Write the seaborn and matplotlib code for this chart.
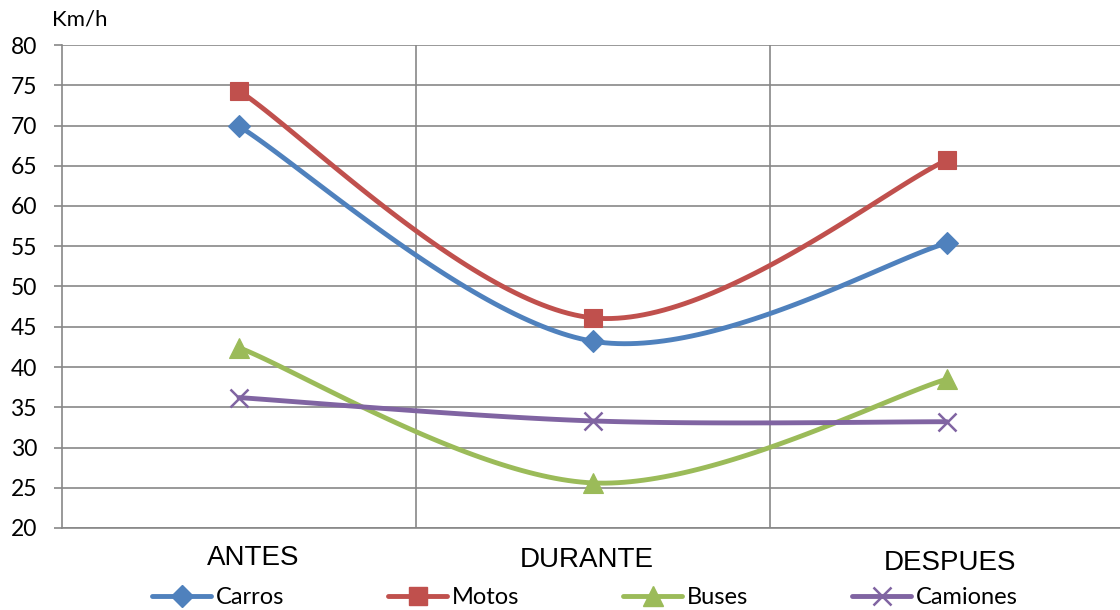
import numpy as np
import pandas as pd
import matplotlib
matplotlib.use("Agg")
import matplotlib.pyplot as plt
from matplotlib.lines import Line2D
from matplotlib.transforms import ScaledTranslation
import seaborn as sns

# Average speed by vehicle type, before / during / after
periods = ["ANTES", "DURANTE", "DESPUES"]
carros = [69.9, 43.2, 55.4]
motos = [74.3, 46.1, 65.7]
buses = [42.4, 25.6, 38.5]
camiones = [36.2, 33.3, 33.2]
series_names = ["Carros", "Motos", "Buses", "Camiones"]
y_ticks = list(range(20, 81, 5))

colors = ["#4F81BD", "#C0504D", "#9BBB59", "#8064A2"]
markers = ["D", "s", "^", "x"]
msizes = [11, 13.5, 14, 13]

df = pd.DataFrame({"periodo": periods, "Carros": carros, "Motos": motos,
                   "Buses": buses, "Camiones": camiones})
long = df.melt(id_vars="periodo", var_name="tipo", value_name="kmh")
long["pos"] = long["periodo"].map({p: i for i, p in enumerate(periods)})

sns.set_theme(style="white")
plt.rcParams["font.family"] = ["Lato", "DejaVu Sans"]
plt.rcParams["text.color"] = "black"
plt.rcParams["xtick.color"] = "black"
plt.rcParams["ytick.color"] = "black"

fig = plt.figure(figsize=(11.2, 6.1), dpi=100)
ax = fig.add_axes([62 / 1120, 1 - 528 / 610, 1062 / 1120, 483 / 610])


def smooth(xs, ys, n=60):
    """Cubic Bezier smoothing through the points (Catmull-Rom style)."""
    P = np.column_stack([xs, ys]).astype(float)
    ext = np.vstack([P[0], P, P[-1]])
    out = []
    t = np.linspace(0, 1, n)[:, None]
    for i in range(len(P) - 1):
        p0, p1 = ext[i + 1], ext[i + 2]
        c1 = p0 + (ext[i + 2] - ext[i]) / 6
        c2 = p1 - (ext[i + 3] - ext[i + 1]) / 6
        seg = ((1 - t) ** 3) * p0 + 3 * ((1 - t) ** 2) * t * c1 \
            + 3 * (1 - t) * t ** 2 * c2 + t ** 3 * p1
        out.append(seg)
    return np.vstack(out)


for name, col, mk, ms in zip(series_names, colors, markers, msizes):
    sub = long[long["tipo"] == name]
    curve = smooth(sub["pos"].values, sub["kmh"].values)
    ax.plot(curve[:, 0], curve[:, 1], color=col, lw=3.5, solid_capstyle="round",
            zorder=3)
    if mk == "x":
        ax.plot(sub["pos"], sub["kmh"], ls="none", marker=mk, ms=ms, mew=1.8,
                color=col, zorder=4)
    else:
        ax.plot(sub["pos"], sub["kmh"], ls="none", marker=mk, ms=ms, mew=0.8,
                mfc=col, mec=col, zorder=4)

ax.set_xlim(-0.5, 2.5)
ax.set_ylim(20, 80)
ax.set_yticks(y_ticks)
ax.set_xticks(range(len(periods)))
ax.set_xticklabels(periods, fontfamily="Liberation Sans", fontsize=20)
ax.set_xticks([0.5, 1.5], minor=True)

grid_c = "#878787"
ax.grid(axis="y", which="major", color=grid_c, lw=1.2)
ax.grid(axis="x", which="minor", color=grid_c, lw=1.2)
ax.grid(axis="x", which="major", visible=False)
ax.tick_params(axis="y", which="major", length=6, width=1.2, color=grid_c,
               direction="out", pad=12, labelsize=16.5, left=True,
               labelcolor="black")
ax.tick_params(axis="x", which="both", length=0, pad=14, labelcolor="black")

for s in ["top", "right"]:
    ax.spines[s].set_visible(False)
for s in ["left", "bottom"]:
    ax.spines[s].set_color(grid_c)
    ax.spines[s].set_linewidth(1.2)

# Small individual shifts of the category labels
shifts = [(14, 2), (-6, 0), (3, -3)]
for lab, (dx, dy) in zip(ax.get_xticklabels(), shifts):
    lab.set_transform(lab.get_transform()
                      + ScaledTranslation(dx / 100, dy / 100, fig.dpi_scale_trans))

fig.text(52 / 1120, 1 - 20 / 610, "Km/h", fontsize=16, va="center", ha="left",
         color="black")

handles = []
for name, col, mk, ms in zip(series_names, colors, markers, msizes):
    if mk == "x":
        h = Line2D([], [], color=col, lw=3.5, marker=mk, ms=ms, mew=1.8)
    else:
        h = Line2D([], [], color=col, lw=3.5, marker=mk, ms=ms, mfc=col, mec=col)
    handles.append(h)
fig.legend(handles, series_names, loc="center", bbox_to_anchor=(585 / 1120, 1 - 598 / 610),
           ncol=4, frameon=False, fontsize=17, handlelength=2.5, handletextpad=0.2,
           columnspacing=4.4, borderpad=0, labelcolor="black")

fig.savefig("out.png", dpi=100)
